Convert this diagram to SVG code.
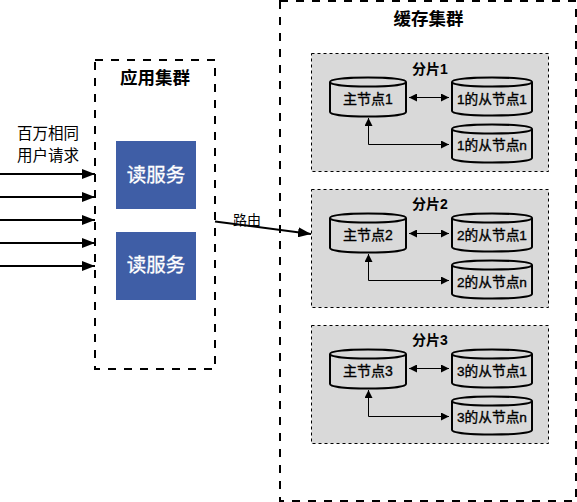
<svg xmlns="http://www.w3.org/2000/svg" width="577" height="502" viewBox="0 0 577 502">
<style>
text{font-family:"Liberation Sans","Noto Sans CJK SC",sans-serif;text-anchor:middle;fill:#000}
.cl{fill:#fff;stroke:#000;stroke-width:2;stroke-dasharray:8 8}
.sh{fill:#d9d9d9;stroke:#000;stroke-width:1;stroke-dasharray:3 3}
.cy{fill:#d9d9d9;stroke:#000;stroke-width:2}
.b{fill:#3f5ea6}
.t{font-size:15.500px}
.r{font-size:14px}
.bt{font-size:14px;stroke:#000;stroke-width:.35}
.bs{font-size:13.700px;stroke:#000;stroke-width:.35}
.st{font-size:14px;font-weight:bold}
.h{font-size:17.500px;font-weight:bold}
.w{font-size:19.500px;fill:#fff;stroke:#fff;stroke-width:.3}
.c{fill:none;stroke:#000}
</style>
<defs>
<marker id="a" markerUnits="userSpaceOnUse" markerWidth="14" markerHeight="10" refX="13" refY="5" orient="auto"><path d="M0 0L13 5L0 10z" fill="#000"/></marker>
<marker id="s" markerUnits="userSpaceOnUse" markerWidth="8" markerHeight="8" refX="8" refY="4" orient="auto-start-reverse"><path d="M0 0L8 4L0 8z" fill="#000"/></marker>
<g id="cyl"><path d="M0 5C0 -1 76 -1 76 5V35C76 41 0 41 0 35z"/><path d="M0 5C0 11 76 11 76 5" fill="none"/></g>
<g id="cyl2"><path d="M0 5C0 -1 80 -1 80 5V34C80 40 0 40 0 34z"/><path d="M0 5C0 11 80 11 80 5" fill="none"/></g>
</defs>
<g id="cache"><rect class="cl" x="280" y="1" width="296" height="500"/><text class="h" x="428.500" y="25">缓存集群</text></g>
<g id="app"><rect class="cl" x="95" y="60" width="120" height="309"/><text class="h" x="155" y="84">应用集群</text></g>
<g id="s1"><rect class="sh" x="311.500" y="53.500" width="237" height="118"/><text class="st" x="430" y="73.500">分片1</text></g>
<g id="s2"><rect class="sh" x="311.500" y="189.500" width="237" height="118"/><text class="st" x="430" y="209">分片2</text></g>
<g id="s3"><rect class="sh" x="311.500" y="325.500" width="237" height="118"/><text class="st" x="430" y="345">分片3</text></g>
<g id="r1"><rect class="b" x="116" y="141" width="80" height="68"/><text class="w" x="156" y="182">读服务</text></g>
<g id="r2"><rect class="b" x="116" y="232" width="80" height="68"/><text class="w" x="156" y="272">读服务</text></g>
<g id="m1"><use href="#cyl" class="cy" x="330" y="77"/><text class="bt" x="368" y="104">主节点1</text></g>
<g id="a1"><use href="#cyl2" class="cy" x="452" y="77"/><text class="bs" x="492" y="104">1的从节点1</text></g>
<g id="n1"><use href="#cyl2" class="cy" x="452" y="124"/><text class="bs" x="492" y="150">1的从节点n</text></g>
<g id="m2"><use href="#cyl" class="cy" x="330" y="213"/><text class="bt" x="368" y="240">主节点2</text></g>
<g id="a2"><use href="#cyl2" class="cy" x="452" y="213"/><text class="bs" x="492" y="240">2的从节点1</text></g>
<g id="n2"><use href="#cyl2" class="cy" x="452" y="260"/><text class="bs" x="492" y="287">2的从节点n</text></g>
<g id="m3"><use href="#cyl" class="cy" x="330" y="349"/><text class="bt" x="368" y="376">主节点3</text></g>
<g id="a3"><use href="#cyl2" class="cy" x="452" y="349"/><text class="bs" x="492" y="376">3的从节点1</text></g>
<g id="n3"><use href="#cyl2" class="cy" x="452" y="396"/><text class="bs" x="492" y="422">3的从节点n</text></g>
<g id="connectors">
<path class="c" stroke-width="2" marker-end="url(#a)" d="M0 174H95"/>
<path class="c" stroke-width="2" marker-end="url(#a)" d="M0 197H95"/>
<path class="c" stroke-width="2" marker-end="url(#a)" d="M0 220H95"/>
<path class="c" stroke-width="2" marker-end="url(#a)" d="M0 243H95"/>
<path class="c" stroke-width="2" marker-end="url(#a)" d="M0 266H95"/>
<path class="c" stroke-width="2" marker-end="url(#a)" d="M215 221.500L311 234"/>
<path class="c" marker-start="url(#s)" marker-end="url(#s)" d="M409 97.500H449"/>
<path class="c" marker-start="url(#s)" marker-end="url(#s)" d="M368.500 118V144.500H449"/>
<path class="c" marker-start="url(#s)" marker-end="url(#s)" d="M409 233.500H449"/>
<path class="c" marker-start="url(#s)" marker-end="url(#s)" d="M368.500 254V280.500H449"/>
<path class="c" marker-start="url(#s)" marker-end="url(#s)" d="M409 368.500H449"/>
<path class="c" marker-start="url(#s)" marker-end="url(#s)" d="M368.500 390V416.500H449"/>
</g>
<text class="t" x="48" y="138.500">百万相同</text>
<text class="t" x="48" y="160.500">用户请求</text>
<text class="r" x="247" y="224.500">路由</text>
</svg>
